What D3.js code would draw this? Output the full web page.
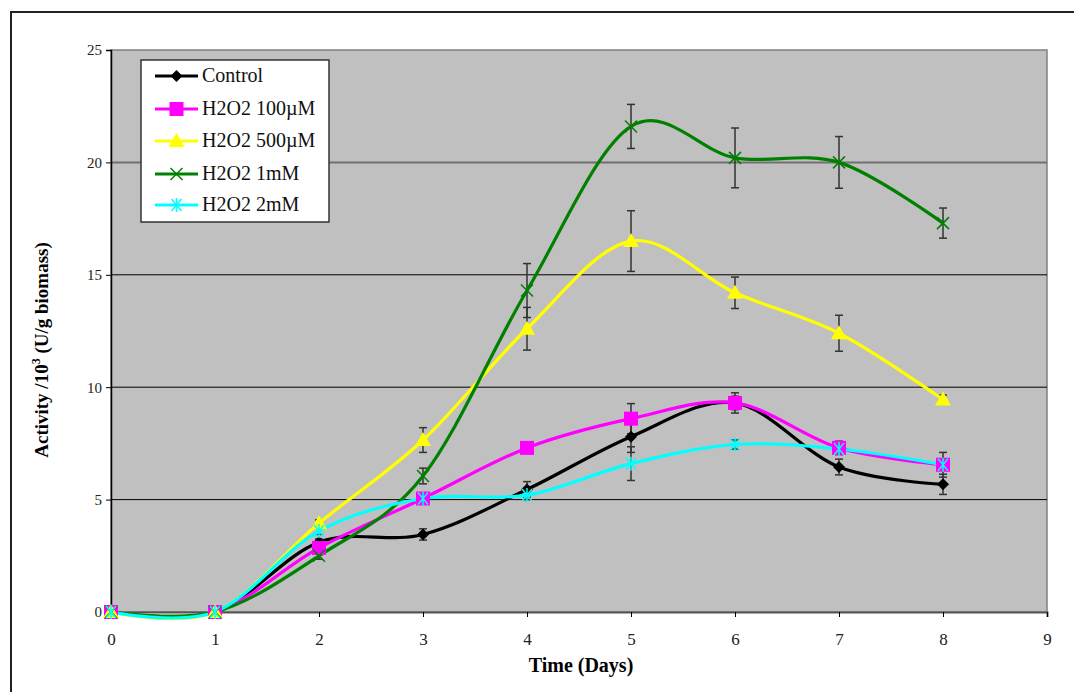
<!DOCTYPE html>
<html>
<head>
<meta charset="utf-8">
<script src="https://cdn.jsdelivr.net/npm/d3@7"></script>
<style>
  html, body { margin: 0; padding: 0; background: #fff; }
  svg { display: block; }
  text { font-family: "Liberation Serif", "Times New Roman", serif; }
</style>
</head>
<body>
<svg id="chart" width="1074" height="692"></svg>
<script>
// Days of sampling
const days = [0, 1, 2, 3, 4, 5, 6, 7, 8];

// Series names (legend order)
const seriesNames = ["Control", "H2O2 100\u00B5M", "H2O2 500\u00B5M", "H2O2 1mM", "H2O2 2mM"];

// Mean activity (x10^3 U/g biomass)
const control   = [0, 0, 3.1, 3.45, 5.45, 7.8, 9.3, 6.45, 5.68];
const h2o2_100  = [0, 0, 2.85, 5.05, 7.3, 8.6, 9.3, 7.3, 6.55];
const h2o2_500  = [0, 0, 3.95, 7.65, 12.6, 16.5, 14.2, 12.4, 9.45];
const h2o2_1mM  = [0, 0, 2.5, 6.05, 14.3, 21.6, 20.2, 20.0, 17.3];
const h2o2_2mM  = [0, 0, 3.6, 5.05, 5.2, 6.6, 7.45, 7.25, 6.55];

// Standard deviations
const controlErr  = [0, 0, 0.15, 0.25, 0.35, 0.7, 0.3, 0.35, 0.45];
const h2o2_100Err = [0, 0, 0.15, 0.2, 0.2, 0.67, 0.45, 0.3, 0.55];
const h2o2_500Err = [0, 0, 0.15, 0.55, 0.95, 1.35, 0.7, 0.8, 0.2];
const h2o2_1mMErr = [0, 0, 0.15, 0.35, 1.2, 0.98, 1.33, 1.15, 0.67];
const h2o2_2mMErr = [0, 0, 0.15, 0.2, 0.2, 0.75, 0.2, 0.2, 0.2];

// Axis ticks
const xTicks = [0, 1, 2, 3, 4, 5, 6, 7, 8, 9];
const yTicks = [0, 5, 10, 15, 20, 25];

const seriesColors = ["#000000", "#FF00FF", "#FFFF00", "#008000", "#00FFFF"];
const seriesMarkers = ["diamond", "square", "triangle", "cross", "star"];
const seriesValues = [control, h2o2_100, h2o2_500, h2o2_1mM, h2o2_2mM];
const seriesErrors = [controlErr, h2o2_100Err, h2o2_500Err, h2o2_1mMErr, h2o2_2mMErr];

const series = seriesNames.map((name, i) => ({
  name,
  color: seriesColors[i],
  marker: seriesMarkers[i],
  points: days.map((d, j) => ({ day: d, value: seriesValues[i][j], err: seriesErrors[i][j] }))
}));

const svg = d3.select("#chart");

// Outer chart frame
svg.append("rect")
  .attr("x", 11).attr("y", 12)
  .attr("width", 1100).attr("height", 720)
  .attr("fill", "#fff")
  .attr("stroke", "#222").attr("stroke-width", 2);

const plot = { left: 111, right: 1047, top: 50, bottom: 612 };

const x = d3.scaleLinear().domain([0, 9]).range([plot.left, plot.right]);
const y = d3.scaleLinear().domain([0, 25]).range([plot.bottom, plot.top]);

// Plot background
svg.append("rect")
  .attr("x", plot.left).attr("y", plot.top)
  .attr("width", plot.right - plot.left).attr("height", plot.bottom - plot.top)
  .attr("fill", "#C0C0C0")
  .attr("stroke", "#808080").attr("stroke-width", 1.5);

// Horizontal gridlines
svg.append("g")
  .selectAll("line")
  .data(yTicks.filter(t => t > 0 && t < 25))
  .join("line")
  .attr("x1", plot.left).attr("x2", plot.right)
  .attr("y1", d => y(d)).attr("y2", d => y(d))
  .attr("stroke", d => d === 20 ? "#707070" : "#000")
  .attr("stroke-width", d => d === 20 ? 2 : 1);

// Y axis
const yAxis = svg.append("g")
  .attr("transform", `translate(${plot.left},0)`)
  .call(d3.axisLeft(y).tickValues(yTicks).tickSize(5).tickPadding(4).tickFormat(d3.format("d")));
yAxis.select(".domain").attr("stroke", "#000").attr("stroke-width", 1.5);
yAxis.selectAll(".tick line").attr("stroke", "#000");
yAxis.selectAll("text").attr("font-size", 15).attr("fill", "#222")
  .style("font-family", "'Liberation Serif', serif");

// X axis
const xAxis = svg.append("g")
  .attr("transform", `translate(0,${plot.bottom})`)
  .call(d3.axisBottom(x).tickValues(xTicks).tickSize(5).tickPadding(16).tickFormat(d3.format("d")));
xAxis.select(".domain").attr("stroke", "#555").attr("stroke-width", 2);
xAxis.selectAll(".tick line").attr("stroke", "#000");
xAxis.selectAll("text").attr("font-size", 17).attr("fill", "#222")
  .style("font-family", "'Liberation Serif', serif");

// Axis titles
svg.append("text")
  .attr("x", x(4.5) + 2).attr("y", 672)
  .attr("text-anchor", "middle")
  .attr("font-size", 20).attr("font-weight", "bold")
  .text("Time (Days)");

const yTitle = svg.append("text")
  .attr("transform", `translate(48,${(plot.top + plot.bottom) / 2 + 19}) rotate(-90)`)
  .attr("text-anchor", "middle")
  .attr("font-size", 19).attr("font-weight", "bold");
yTitle.append("tspan").text("Activity /10");
yTitle.append("tspan").attr("dy", -8).attr("font-size", 12).text("3");
yTitle.append("tspan").attr("dy", 8).text(" (U/g biomass)");

// Smoothed lines
const line = d3.line()
  .x(d => x(d.day))
  .y(d => y(d.value))
  .curve(d3.curveCardinal.tension(0));

// Error bars (drawn beneath lines)
const errG = svg.append("g");
series.forEach(s => {
  const pts = s.points.filter(p => p.err > 0);
  const g = errG.append("g");
  g.selectAll("line.v").data(pts).join("line").attr("class", "v")
    .attr("x1", p => x(p.day)).attr("x2", p => x(p.day))
    .attr("y1", p => y(p.value - p.err)).attr("y2", p => y(p.value + p.err))
    .attr("stroke", "#333").attr("stroke-width", 1.5);
  ["-", "+"].forEach(sign => {
    g.selectAll(`line.c${sign === "-" ? "lo" : "hi"}`).data(pts).join("line")
      .attr("class", `c${sign === "-" ? "lo" : "hi"}`)
      .attr("x1", p => x(p.day) - 4).attr("x2", p => x(p.day) + 4)
      .attr("y1", p => y(sign === "-" ? p.value - p.err : p.value + p.err))
      .attr("y2", p => y(sign === "-" ? p.value - p.err : p.value + p.err))
      .attr("stroke", "#333").attr("stroke-width", 1.5);
  });
});

const lineG = svg.append("g");
series.forEach(s => {
  lineG.append("path")
    .datum(s.points)
    .attr("fill", "none")
    .attr("stroke", s.color)
    .attr("stroke-width", 3.2)
    .attr("d", line);
});

// Marker shapes
function drawMarker(g, type, color, cx, cy) {
  if (type === "diamond") {
    g.append("path")
      .attr("d", `M${cx},${cy - 6}L${cx + 6},${cy}L${cx},${cy + 6}L${cx - 6},${cy}Z`)
      .attr("fill", color);
  } else if (type === "square") {
    g.append("rect")
      .attr("x", cx - 7).attr("y", cy - 7).attr("width", 14).attr("height", 14)
      .attr("fill", color);
  } else if (type === "triangle") {
    g.append("path")
      .attr("d", `M${cx},${cy - 8}L${cx + 8},${cy + 6}L${cx - 8},${cy + 6}Z`)
      .attr("fill", color);
  } else if (type === "cross") {
    g.append("path")
      .attr("d", `M${cx - 6},${cy - 6}L${cx + 6},${cy + 6}M${cx - 6},${cy + 6}L${cx + 6},${cy - 6}`)
      .attr("stroke", color).attr("stroke-width", 1.5);
  } else if (type === "star") {
    g.append("path")
      .attr("d", `M${cx - 5},${cy - 6}L${cx + 5},${cy + 6}M${cx - 5},${cy + 6}L${cx + 5},${cy - 6}M${cx},${cy - 7}L${cx},${cy + 7}`)
      .attr("stroke", color).attr("stroke-width", 1.5);
  }
}

const markerG = svg.append("g");
series.forEach(s => {
  s.points.forEach(p => drawMarker(markerG, s.marker, s.color, x(p.day), y(p.value)));
});

// Legend
const legend = svg.append("g");
legend.append("rect")
  .attr("x", 141).attr("y", 60).attr("width", 188).attr("height", 162)
  .attr("fill", "#fff").attr("stroke", "#333").attr("stroke-width", 1.5);
const legendRows = [76, 109, 141, 174, 205];
series.forEach((s, i) => {
  const ly = legendRows[i];
  legend.append("line")
    .attr("x1", 155).attr("x2", 198).attr("y1", ly).attr("y2", ly)
    .attr("stroke", s.color).attr("stroke-width", 3);
  drawMarker(legend, s.marker, s.color, 176.5, ly);
  legend.append("text")
    .attr("x", 202).attr("y", ly + 6)
    .attr("font-size", 20).attr("fill", "#111")
    .text(s.name);
});
</script>
</body>
</html>
